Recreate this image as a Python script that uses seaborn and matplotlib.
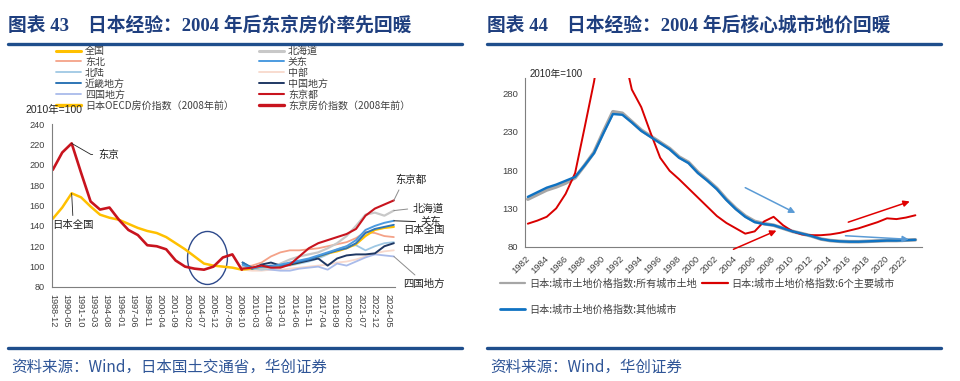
import matplotlib
matplotlib.use("Agg")
import matplotlib.pyplot as plt
from matplotlib.patches import Ellipse
from matplotlib.lines import Line2D
import numpy as np
import pandas as pd
import seaborn as sns

W, H = 960, 381

# ---------- 图表43 数据 ----------
pre_dates = [f"{y}-12" for y in range(1988, 2009)]
oecd_pre = [147, 158, 172, 168, 159, 151, 148, 146, 142, 138, 135, 133, 129, 123,
            117, 110, 103, 101, 100, 99, 97]
tokyo_pre = [195, 212, 221, 192, 164, 156, 158, 146, 136, 131, 121, 120, 117, 106,
             100, 98, 97, 100, 109, 112, 97]

post_dates = [f"{y}-01" for y in range(2009, 2025)] + ["2025-01"]
quanguo = [97, 98, 100, 100, 101, 102, 104, 107, 110, 113, 115, 118, 122, 130, 136, 138, 139]
hokkaido = [100, 99, 98, 99, 103, 107, 110, 112, 114, 118, 123, 130, 140, 151, 153, 150, 155]
tohoku = [100, 101, 104, 110, 114, 116, 116, 117, 118, 120, 122, 124, 128, 134, 133, 130, 129]
kanto = [102, 98, 100, 100, 102, 104, 106, 108, 111, 114, 117, 120, 126, 136, 140, 143, 145]
hokuriku = [101, 98, 97, 98, 100, 101, 103, 105, 108, 112, 117, 120, 121, 116, 120, 123, 124]
chubu = [97, 96, 96, 97, 97, 98, 99, 100, 101, 102, 104, 105, 107, 110, 113, 115, 116]
kinki = [104, 99, 100, 101, 101, 103, 105, 107, 110, 113, 116, 118, 123, 133, 137, 139, 141]
chugoku = [104, 98, 102, 104, 101, 102, 104, 106, 108, 101, 108, 111, 112, 112, 113, 120, 123]
shikoku = [100, 99, 98, 97, 96, 96, 98, 99, 100, 97, 103, 101, 105, 109, 112, 111, 110]
tokyo_to = [98, 99, 101, 99, 99, 102, 110, 118, 123, 126, 129, 132, 137, 150, 157, 161, 165]

ticks_43 = ["1988-12", "1990-05", "1991-10", "1993-03", "1994-08", "1996-01", "1997-06",
            "1998-11", "2000-04", "2001-09", "2003-02", "2004-07", "2005-12", "2007-05",
            "2008-10", "2010-03", "2011-08", "2013-01", "2014-06", "2015-11", "2017-04",
            "2018-09", "2020-02", "2021-07", "2022-12", "2024-05"]

# ---------- 图表44 数据 ----------
years_44 = list(range(1982, 2024))
land_all = [142, 148, 154, 158, 163, 170, 186, 203, 230, 256, 254, 243, 232, 224, 216, 208,
            197, 190, 177, 167, 156, 142, 130, 120, 113, 110, 108, 104, 100, 97, 94, 90,
            88, 87, 86.5, 86.5, 87, 87.5, 88, 88, 88.5, 89]
land_six = [110, 114, 119, 130, 149, 176, 235, 295, 370, 380, 340, 285, 262, 228, 196, 179,
            168, 156, 144, 132, 120, 111, 104, 97, 100, 113, 119, 108, 100, 96, 95, 95,
            96, 98, 101, 104, 108, 112, 117, 116, 118, 121]
land_other = [145, 151, 157, 161, 166, 171, 186, 202, 228, 253, 252, 242, 231, 223, 215, 207,
              196, 189, 176, 166, 155, 141, 129, 119, 112, 109.5, 108, 104, 100, 97, 94, 90,
              88, 87, 86.5, 86.5, 87, 87.5, 88, 88, 88.5, 89]

sns.set_style("white")
plt.rcParams["font.family"] = ["Liberation Sans", "Noto Sans CJK SC"]
cjk = ["Noto Sans CJK SC", "Liberation Sans"]
title_font = ["Liberation Serif", "Noto Sans CJK SC"]

navy = "#1F3F7F"
grey_txt = "#404040"

fig = plt.figure(figsize=(W / 100, H / 100), dpi=100)


def fx(x):
    return x / W


def fy(y):
    return 1 - y / H


ax1 = fig.add_axes([fx(52), fy(287), (395 - 52) / W, (287 - 124) / H])
ax2 = fig.add_axes([fx(525), fy(246.7), (922 - 525) / W, (246.7 - 78) / H])

# ---------- left chart ----------
pre_x = pd.to_datetime(pre_dates)
post_x = pd.to_datetime(post_dates)

series_43 = [
    ("中部", chubu, "#F8D9CC", 1.3),
    ("四国地方", shikoku, "#A9BBEA", 1.3),
    ("北陆", hokuriku, "#9FC8E4", 1.3),
    ("东北", tohoku, "#F4A288", 1.3),
    ("北海道", hokkaido, "#C8C8C8", 1.6),
    ("全国", quanguo, "#FFC000", 1.6),
    ("中国地方", chugoku, "#1F3864", 1.4),
    ("近畿地方", kinki, "#2E75B6", 1.4),
    ("关东", kanto, "#4C9BE0", 1.4),
    ("东京都", tokyo_to, "#C8141E", 1.5),
]
handles = {}
for name, vals, col, lw in series_43:
    sns.lineplot(x=post_x, y=vals, ax=ax1, color=col, lw=lw)
    handles[name] = Line2D([], [], color=col, lw=lw if name not in ("全国", "北海道") else 2.2)

sns.lineplot(x=pre_x, y=oecd_pre, ax=ax1, color="#FFC000", lw=1.8)
sns.lineplot(x=pre_x, y=tokyo_pre, ax=ax1, color="#C8141E", lw=1.9)
handles["日本OECD房价指数（2008年前）"] = Line2D([], [], color="#FFC000", lw=2.4)
handles["东京房价指数（2008年前）"] = Line2D([], [], color="#C8141E", lw=2.4)

ax1.set_ylim(80, 240)
ax1.set_yticks(range(80, 241, 20))
ax1.set_xlim(pd.Timestamp("1988-11-01"), pd.Timestamp("2025-02-15"))
ax1.set_xticks(pd.to_datetime(ticks_43))
ax1.set_xticklabels(ticks_43, rotation=270, ha="center", va="top")
ax1.set_xlabel("")
ax1.set_ylabel("")

ell = Ellipse((pd.Timestamp("2005-04-15"), 108.5), width=1540, height=52,
              fill=False, edgecolor="#2E4A8C", lw=1.0, clip_on=False)
ax1.add_patch(ell)

order = ["全国", "东北", "北陆", "近畿地方", "四国地方", "日本OECD房价指数（2008年前）",
         "北海道", "关东", "中部", "中国地方", "东京都", "东京房价指数（2008年前）"]
ax1.legend([handles[k] for k in order], order, ncol=2, frameon=False,
           loc="upper left", bbox_to_anchor=(fx(56), fy(46)), bbox_transform=fig.transFigure,
           prop={"family": cjk, "size": 7.2}, labelcolor=grey_txt,
           handlelength=2.5, handletextpad=0.4, labelspacing=0.09, columnspacing=2.5,
           borderpad=0, borderaxespad=0)

# annotations left
ax1.annotate("东京", xy=(pre_x[2], tokyo_pre[2]), xytext=(19.5, -8), textcoords="offset points",
             ha="left", va="center", fontsize=7.5, family=cjk, color="#222222",
             arrowprops=dict(arrowstyle="-", color="#222222", lw=0.6, shrinkA=2, shrinkB=0,
                             relpos=(0, 0.5), connectionstyle="angle,angleA=0,angleB=-30,rad=0"))
ax1.annotate("日本全国", xy=(pre_x[2], oecd_pre[2]), xytext=(1, -23), textcoords="offset points",
             ha="center", va="center", fontsize=7.5, family=cjk, color="#222222",
             arrowprops=dict(arrowstyle="-", color="#222222", lw=0.6, shrinkA=1, shrinkB=0,
                             relpos=(0.5, 1)))

lead = dict(arrowstyle="-", color="#8C8C8C", lw=0.7, shrinkA=1, shrinkB=0)
end_x = post_x[-1]
ax1.annotate("东京都", xy=(end_x, tokyo_to[-1]), xytext=(12, 14.5), textcoords="offset points",
             ha="center", va="center", fontsize=7.5, family=cjk, color="#222222",
             arrowprops=dict(lead, relpos=(0.2, 0)), annotation_clip=False)
ax1.annotate("北海道", xy=(end_x, hokkaido[-1]), xytext=(24.5, 1.5), textcoords="offset points",
             ha="center", va="center", fontsize=7.5, family=cjk, color="#222222",
             arrowprops=dict(lead, relpos=(0, 0.5)), annotation_clip=False)
ax1.annotate("关东", xy=(end_x, kanto[-1]), xytext=(26.5, -0.7), textcoords="offset points",
             ha="center", va="center", fontsize=7.5, family=cjk, color="#222222",
             arrowprops=dict(lead, relpos=(0, 0.5), color="#222222"), annotation_clip=False)
ax1.annotate("日本全国", xy=(end_x, quanguo[-1]), xytext=(21.6, -2.4), textcoords="offset points",
             ha="center", va="center", fontsize=7.5, family=cjk, color="#222222",
             annotation_clip=False)
ax1.annotate("中国地方", xy=(end_x, chugoku[-1]), xytext=(21.6, -5), textcoords="offset points",
             ha="center", va="center", fontsize=7.5, family=cjk, color="#222222",
             annotation_clip=False)
ax1.annotate("四国地方", xy=(end_x, shikoku[-1]), xytext=(21.6, -20), textcoords="offset points",
             ha="center", va="center", fontsize=7.5, family=cjk, color="#222222",
             arrowprops=dict(lead, relpos=(0.4, 1)), annotation_clip=False)

fig.text(fx(25), fy(110), "2010年=100", fontsize=7.5, family=["Liberation Sans", "Noto Sans CJK SC"],
         color="#262626", va="center", ha="left")

# ---------- right chart ----------
x44 = np.array(years_44) + 0.3
sns.lineplot(x=x44, y=land_all, ax=ax2, color="#A6A6A6", lw=2.6)
sns.lineplot(x=x44, y=land_six, ax=ax2, color="#D90000", lw=1.4)
sns.lineplot(x=x44, y=land_other, ax=ax2, color="#0F72C2", lw=1.7)
ax2.set_xlim(1982, 2024)
ax2.set_ylim(80, 300)
ax2.set_yticks(range(80, 281, 50))
ax2.set_xticks(range(1982, 2023, 2))
ax2.set_xticklabels([str(y) for y in range(1982, 2023, 2)], rotation=45, ha="right",
                    rotation_mode="anchor")
ax2.set_xlabel("")
ax2.set_ylabel("")

arrows = [((2005.3, 157), (2010.6, 124), "#5B9BD5"),
          ((2004.05, 76.6), (2008.6, 101), "#E00000"),
          ((2016.2, 112), (2022.7, 139), "#E00000"),
          ((2015.9, 94.3), (2022.6, 89.6), "#5B9BD5")]
for start, end, col in arrows:
    ax2.annotate("", xy=end, xytext=start, annotation_clip=False,
                 arrowprops=dict(arrowstyle="-|>", color=col, lw=1.1, mutation_scale=9,
                                 shrinkA=0, shrinkB=0))

lab_all = "日本:城市土地价格指数:所有城市土地"
lab_six = "日本:城市土地价格指数:6个主要城市"
lab_other = "日本:城市土地价格指数:其他城市"
h2 = [Line2D([], [], color="#A6A6A6", lw=1.6), Line2D([], [], color="#0F72C2", lw=2.0),
      Line2D([], [], color="#D90000", lw=1.6)]
ax2.legend(h2, [lab_all, lab_other, lab_six], ncol=2, frameon=False,
           loc="upper left", bbox_to_anchor=(fx(500), fy(278)), bbox_transform=fig.transFigure,
           prop={"family": cjk, "size": 7.3}, labelcolor=grey_txt,
           handlelength=2.5, handletextpad=0.4, labelspacing=1.6, columnspacing=0.5,
           borderpad=0, borderaxespad=0)

fig.text(fx(530), fy(74), "2010年=100", fontsize=7, family=["Liberation Sans", "Noto Sans CJK SC"],
         color="#262626", va="center", ha="left")

for ax in (ax1, ax2):
    sns.despine(ax=ax)
    for s in ("left", "bottom"):
        ax.spines[s].set_color("#7F7F7F")
        ax.spines[s].set_linewidth(0.8)
    ax.tick_params(axis="both", direction="out", length=3, width=0.6, color="#7F7F7F",
                   labelcolor="#404040", pad=2)
ax1.tick_params(labelsize=6.6)
ax2.tick_params(labelsize=6.8)

# ---------- titles, rules, sources ----------
fig.text(fx(8), fy(25), "图表 43    日本经验：2004 年后东京房价率先回暖", fontsize=13.5,
         fontweight="bold", family=title_font, color=navy, va="center", ha="left")
fig.text(fx(487), fy(25), "图表 44    日本经验：2004 年后核心城市地价回暖", fontsize=13.5,
         fontweight="bold", family=title_font, color=navy, va="center", ha="left")
for x0, x1 in ((8, 462), (487, 941)):
    for yy in (43.5, 348):
        fig.add_artist(Line2D([fx(x0), fx(x1)], [fy(yy), fy(yy)], color="#1F4E8C", lw=2.4))
fig.text(fx(11), fy(367), "资料来源：Wind，日本国土交通省，华创证券", fontsize=11.2, style="italic",
         family=["Noto Sans CJK SC", "DejaVu Sans"], color="#2F5597", va="center", ha="left")
fig.text(fx(490), fy(367), "资料来源：Wind，华创证券", fontsize=11.2, style="italic",
         family=["Noto Sans CJK SC", "DejaVu Sans"], color="#2F5597", va="center", ha="left")

fig.savefig("out.png", dpi=100)
